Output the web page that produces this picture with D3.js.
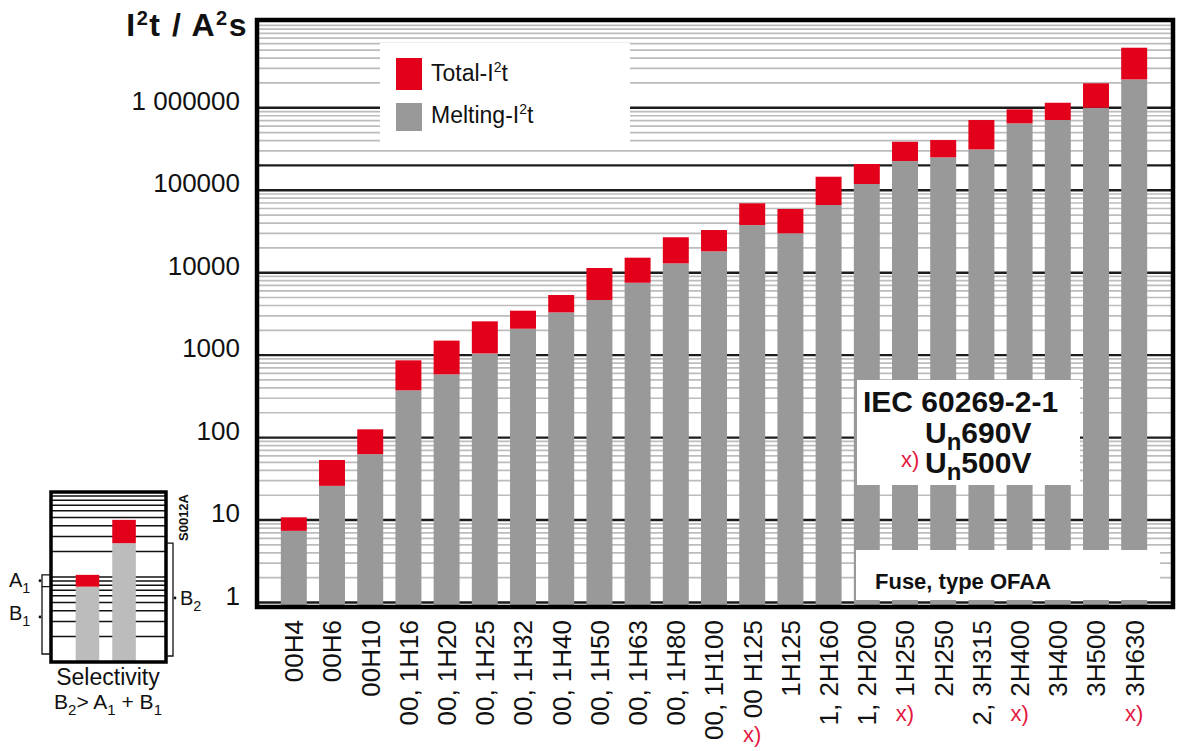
<!DOCTYPE html>
<html>
<head>
<meta charset="utf-8">
<script src="https://cdn.jsdelivr.net/npm/d3@7"></script>
<style>
  html, body { margin: 0; padding: 0; background: #fff; }
  svg { display: block; font-family: "Liberation Sans", Arial, sans-serif; }
</style>
</head>
<body>
<script>
// Fuse types (rated current per size)
const categories = ["00H4", "00H6", "00H10", "00, 1H16", "00, 1H20", "00, 1H25", "00, 1H32",
  "00, 1H40", "00, 1H50", "00, 1H63", "00, 1H80", "00, 1H100", "00 H125", "1H125",
  "1, 2H160", "1, 2H200", "1H250", "2H250", "2, 3H315", "2H400", "3H400", "3H500", "3H630"];

// Melting and total (clearing) I²t in A²s
const meltingI2t = [7.4, 26, 63, 374, 585, 1050, 2090, 3300, 4660, 7550, 12980, 18150, 37800,
  30000, 66200, 118900, 226000, 250600, 313000, 647500, 710000, 1000000, 2210000];
const totalI2t = [10.8, 53.5, 126, 865, 1500, 2570, 3460, 5360, 11400, 15200, 26900, 32900, 69400,
  59200, 145800, 208000, 387000, 406000, 710000, 957500, 1150000, 1980000, 5350000];

// Types rated Un 500 V
const markedTypes = ["00 H125", "1H250", "2H400", "3H630"];

// Axis ticks
const yTickValues = [1, 10, 100, 1000, 10000, 100000, 1000000];
const yTickLabels = ["1", "10", "100", "1000", "10000", "100000", "1 000000"];
const heavyGridValues = [1, 10, 100, 1000, 10000, 100000, 200000, 1000000];

// Selectivity sketch: fuse A (upstream small) and fuse B (downstream large)
const sketchMelting = [7.7, 25];
const sketchTotal = [10.6, 47];

const RED = "#e2001a";
const GREY = "#999999";

const W = 1179, H = 751;
const plot = { left: 257, right: 1173, top: 20, bottom: 607 };

const svg = d3.select("body").append("svg").attr("width", W).attr("height", H);

const x = d3.scaleBand()
  .domain(categories)
  .range([plot.left, plot.right])
  .paddingInner(0.32)
  .paddingOuter(0.65)
  .align(0.48);

const y = d3.scaleLog()
  .domain([0.882, 1.16e7])
  .range([plot.bottom, plot.top]);

// log grid: light lines at 2..9 per decade, dark lines at the decades
const minorVals = [];
for (let k = 0; k <= 7; k++) {
  for (let n = 1; n <= 9; n++) {
    const v = n * Math.pow(10, k);
    if (v >= y.domain()[0] && v <= y.domain()[1] && !heavyGridValues.includes(v)) minorVals.push(v);
  }
}

const grid = svg.append("g");
grid.selectAll("line.minor").data(minorVals).join("line")
  .attr("class", "minor")
  .attr("x1", plot.left).attr("x2", plot.right)
  .attr("y1", d => y(d)).attr("y2", d => y(d))
  .attr("stroke", "#bcbcbc").attr("stroke-width", 1.7);
grid.selectAll("line.major").data(heavyGridValues).join("line")
  .attr("class", "major")
  .attr("x1", plot.left).attr("x2", plot.right)
  .attr("y1", d => y(d)).attr("y2", d => y(d))
  .attr("stroke", "#1c1c1c").attr("stroke-width", 2.4);

// bars
const rows = categories.map((c, i) => ({ c, melt: meltingI2t[i], total: totalI2t[i] }));
const bars = svg.append("g");
bars.selectAll("rect.melt").data(rows).join("rect")
  .attr("class", "melt")
  .attr("x", d => x(d.c)).attr("width", x.bandwidth())
  .attr("y", d => y(d.melt)).attr("height", d => plot.bottom - y(d.melt))
  .attr("fill", GREY);
bars.selectAll("rect.total").data(rows).join("rect")
  .attr("class", "total")
  .attr("x", d => x(d.c)).attr("width", x.bandwidth())
  .attr("y", d => y(d.total)).attr("height", d => y(d.melt) - y(d.total))
  .attr("fill", RED);

// white panels inside the plot
const panels = svg.append("g");
panels.append("rect").attr("x", 380).attr("y", 43).attr("width", 250).attr("height", 104).attr("fill", "#fff");
panels.append("rect").attr("x", 857).attr("y", 380).attr("width", 223).attr("height", 105).attr("fill", "#fff");
panels.append("rect").attr("x", 856).attr("y", 550).attr("width", 304).attr("height", 50).attr("fill", "#fff");

// frame
svg.append("rect")
  .attr("x", plot.left).attr("y", plot.top)
  .attr("width", plot.right - plot.left).attr("height", plot.bottom - plot.top)
  .attr("fill", "none").attr("stroke", "#000").attr("stroke-width", 4.5);

// y tick labels
svg.append("g").selectAll("text").data(yTickValues).join("text")
  .attr("x", 240).attr("y", d => y(d) + 2)
  .attr("text-anchor", "end")
  .attr("font-size", 26).attr("fill", "#111")
  .text((d, i) => yTickLabels[i]);

// axis title I²t / A²s
const title = svg.append("text")
  .attr("x", 248).attr("y", 36).attr("text-anchor", "end")
  .attr("font-size", 32).attr("font-weight", "bold").attr("fill", "#111")
  .attr("letter-spacing", 1.5);
title.append("tspan").text("I");
title.append("tspan").attr("font-size", 20).attr("dy", -11).text("2");
title.append("tspan").attr("dy", 11).text("t / A");
title.append("tspan").attr("font-size", 20).attr("dy", -11).text("2");
title.append("tspan").attr("dy", 11).text("s");

// x labels, rotated
const xl = svg.append("g");
xl.selectAll("text.cat").data(categories).join("text")
  .attr("class", "cat")
  .attr("transform", d => `translate(${x(d) + x.bandwidth() / 2},620) rotate(-90)`)
  .attr("text-anchor", "end")
  .attr("dy", "0.36em")
  .attr("font-size", 26).attr("fill", "#111")
  .text(d => d);

xl.selectAll("text.cat").each(function (d) {
  if (!markedTypes.includes(d)) return;
  const len = this.getComputedTextLength();
  xl.append("text")
    .attr("x", x(d) + x.bandwidth() / 2)
    .attr("y", 620 + len + 24)
    .attr("text-anchor", "middle")
    .attr("font-size", 22).attr("fill", "#e5173f")
    .text("x)");
});

// legend
const legend = svg.append("g");
legend.append("rect").attr("x", 396).attr("y", 58).attr("width", 26).attr("height", 32).attr("fill", RED);
legend.append("rect").attr("x", 396).attr("y", 103).attr("width", 26).attr("height", 28).attr("fill", GREY);
const lt1 = legend.append("text").attr("x", 431).attr("y", 81).attr("font-size", 23).attr("fill", "#111");
lt1.append("tspan").text("Total-I");
lt1.append("tspan").attr("font-size", 14).attr("dy", -9).text("2");
lt1.append("tspan").attr("dy", 9).text("t");
const lt2 = legend.append("text").attr("x", 431).attr("y", 123).attr("font-size", 23).attr("fill", "#111");
lt2.append("tspan").text("Melting-I");
lt2.append("tspan").attr("font-size", 14).attr("dy", -9).text("2");
lt2.append("tspan").attr("dy", 9).text("t");

// standard / voltage note
const note = svg.append("g").attr("font-weight", "bold").attr("fill", "#111");
note.append("text").attr("x", 863).attr("y", 412).attr("font-size", 30).text("IEC 60269-2-1");
[["690V", 443], ["500V", 473]].forEach(([v, yy]) => {
  const t = note.append("text").attr("x", 925).attr("y", yy).attr("font-size", 30);
  t.append("tspan").text("U");
  t.append("tspan").attr("font-size", 24).attr("dy", 7).text("n");
  t.append("tspan").attr("dy", -7).text(v);
});
svg.append("text").attr("x", 901).attr("y", 467).attr("font-size", 22).attr("fill", "#e5173f").text("x)");
note.append("text").attr("x", 875).attr("y", 589).attr("font-size", 22).text("Fuse, type OFAA");

// selectivity sketch
const box = { left: 51, right: 166, top: 492, bottom: 662 };
const sx = d3.scaleBand().domain([0, 1]).range([box.left, box.right])
  .paddingInner(0.356).paddingOuter(0.75).align(0.45);
const sy = d3.scaleLog().domain([1, 100]).range([box.bottom, box.top]);
const sketch = svg.append("g");
const sketchGrid = [];
for (let k = 0; k < 2; k++) for (let n = 1; n <= 9; n++) sketchGrid.push(n * Math.pow(10, k));
sketch.selectAll("line").data(sketchGrid).join("line")
  .attr("x1", box.left).attr("x2", box.right)
  .attr("y1", d => sy(d)).attr("y2", d => sy(d))
  .attr("stroke", "#111").attr("stroke-width", 1.5);
sketch.selectAll("rect.m").data(sketchMelting).join("rect")
  .attr("class", "m")
  .attr("x", (d, i) => sx(i)).attr("width", sx.bandwidth())
  .attr("y", d => sy(d)).attr("height", d => box.bottom - sy(d))
  .attr("fill", "#bcbcbc");
sketch.selectAll("rect.t").data(sketchTotal).join("rect")
  .attr("class", "t")
  .attr("x", (d, i) => sx(i)).attr("width", sx.bandwidth())
  .attr("y", d => sy(d)).attr("height", (d, i) => sy(sketchMelting[i]) - sy(d))
  .attr("fill", RED);
sketch.append("rect")
  .attr("x", box.left).attr("y", box.top)
  .attr("width", box.right - box.left).attr("height", box.bottom - box.top)
  .attr("fill", "none").attr("stroke", "#000").attr("stroke-width", 3.5);

// brackets
const a1Top = sy(sketchTotal[0]), a1Bot = sy(sketchMelting[0]);
const b2Top = sy(sketchMelting[1]);
const br = sketch.append("g").attr("fill", "none").attr("stroke", "#111").attr("stroke-width", 1.3);
br.append("path").attr("d", `M${box.left},${a1Top}H42V${a1Bot}H${box.left}`);
br.append("path").attr("d", `M42,${a1Bot}V654H${box.left}`);
br.append("path").attr("d", `M${box.right},${b2Top}H173V656H${box.right}`);
sketch.append("circle").attr("cx", 40).attr("cy", (a1Top + a1Bot) / 2).attr("r", 1.4).attr("fill", "#111");
sketch.append("circle").attr("cx", 40).attr("cy", 617).attr("r", 1.4).attr("fill", "#111");
sketch.append("circle").attr("cx", 175).attr("cy", 598).attr("r", 1.4).attr("fill", "#111");

function subLabel(g, xx, yy, main, sub, size, anchor) {
  const t = g.append("text").attr("x", xx).attr("y", yy).attr("font-size", size)
    .attr("fill", "#111").attr("text-anchor", anchor || "start");
  t.append("tspan").text(main);
  t.append("tspan").attr("font-size", size * 0.72).attr("dy", size * 0.3).text(sub);
  return t;
}
subLabel(sketch, 9, 587, "A", "1", 20);
subLabel(sketch, 9, 620, "B", "1", 20);
subLabel(sketch, 180, 605, "B", "2", 20);

sketch.append("text")
  .attr("transform", "translate(188,541) rotate(-90)")
  .attr("font-size", 13).attr("font-weight", "bold").attr("fill", "#111")
  .text("S0012A");

sketch.append("text").attr("x", 108).attr("y", 685).attr("text-anchor", "middle")
  .attr("font-size", 23).attr("fill", "#111").text("Selectivity");
const sel = sketch.append("text").attr("x", 108).attr("y", 709).attr("text-anchor", "middle")
  .attr("font-size", 21).attr("fill", "#111");
sel.append("tspan").text("B");
sel.append("tspan").attr("font-size", 15).attr("dy", 6).text("2");
sel.append("tspan").attr("dy", -6).text(">  A");
sel.append("tspan").attr("font-size", 15).attr("dy", 6).text("1");
sel.append("tspan").attr("dy", -6).text(" + B");
sel.append("tspan").attr("font-size", 15).attr("dy", 6).text("1");
</script>
</body>
</html>
